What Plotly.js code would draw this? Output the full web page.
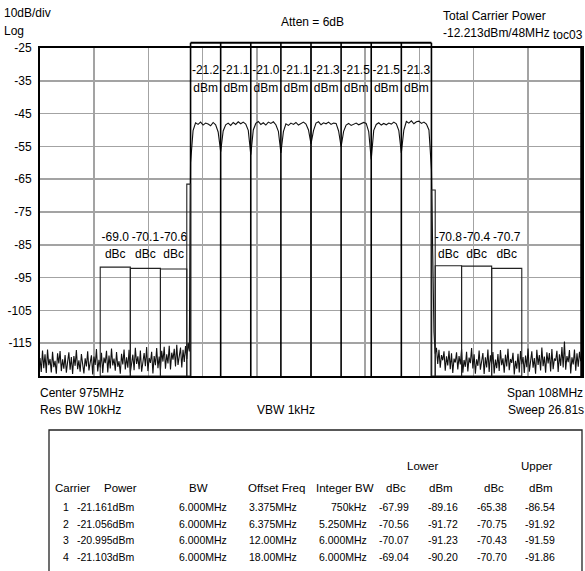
<!DOCTYPE html>
<html><head><meta charset="utf-8">
<script src="https://cdn.plot.ly/plotly-3.0.1.min.js"></script>
<style>html,body{margin:0;padding:0;background:#fff;}#chart{width:585px;height:571px;}</style>
</head><body><div id="chart"></div>
<script>
// ---------- data ----------
const centerMHz = 975;
const spanMHz = 108;
const yTicks = [-25, -35, -45, -55, -65, -75, -85, -95, -105, -115];
const carrierCenters = [954, 960, 966, 972, 978, 984, 990, 996];
const carrierBW = 6;
const carrierPowerLabels = [-21.2, -21.1, -21.0, -21.1, -21.3, -21.5, -21.5, -21.3];

const offsetFreqs = [3.375, 6.375, 12, 18];
const integBW = [0.75, 5.25, 6, 6];
const lowerDbc = [-67.99, -70.56, -70.07, -69.04];
const lowerDbm = [-89.16, -91.72, -91.23, -90.20];
const upperDbc = [-65.38, -70.75, -70.43, -70.70];
const upperDbm = [-86.54, -91.92, -91.59, -91.86];
const lowerBoxLevel = [-66.5, -92.4, -92.2, -91.8];
const upperBoxLevel = [-68.3, -91.4, -91.5, -92.2];

const tableCarrier = ['1', '2', '3', '4'];
const tablePower = ['-21.161dBm', '-21.056dBm', '-20.995dBm', '-21.103dBm'];
const tableBW = ['6.000MHz', '6.000MHz', '6.000MHz', '6.000MHz'];
const tableOffset = ['3.375MHz', '6.375MHz', '12.00MHz', '18.00MHz'];
const tableIntegBW = ['750kHz', '5.250MHz', '6.000MHz', '6.000MHz'];

// sweep trace (dBm)
const lowerNoiseStart = 921, lowerNoiseStep = 0.25;
const lowerNoise = [
-119.5,-123.8,-117.2,-122.6,-118.4,-124.1,-116.9,-121.7,-119.8,-123.9,
-117.6,-122.3,-120.4,-124.3,-118.1,-121.2,-117.4,-123.5,-119.9,-122.8,
-118.6,-124.0,-120.7,-117.8,-123.1,-119.2,-124.4,-118.9,-121.9,-117.1,
-122.9,-120.2,-123.7,-118.3,-121.4,-124.2,-119.6,-122.1,-117.5,-123.3,
-120.9,-118.7,-124.5,-119.1,-121.6,-116.8,-123.6,-120.1,-122.4,-117.9,
-124.1,-119.4,-121.1,-117.3,-123.9,-118.8,-122.7,-116.6,-121.8,-119.7,
-123.4,-117.7,-122.2,-120.5,-124.3,-118.2,-121.5,-116.9,-123.0,-119.3,
-122.5,-117.0,-124.0,-120.8,-118.5,-123.2,-116.4,-121.3,-119.0,-122.9,
-117.2,-123.7,-120.3,-118.0,-122.0,-116.2,-123.5,-119.5,-121.0,-117.6,
-124.2,-118.9,-121.7,-116.5,-122.6,-119.1,-123.3,-117.3,-120.6,-116.1,
-122.8,-118.4,-121.2,-115.8,-123.0,-117.9,-120.0,-116.7,-122.1,-115.5,
-121.6,-118.1,-116.3,-122.4,-117.0,-120.7,-115.9,-119.8,-114.9,-117.5
];
const channelStart = 951, channelStep = 0.5;
const channelLevel = [
-60.0,-50.2,-47.8,-48.3,-47.6,-48.5,-47.9,-48.2,-48.7,-47.7,-48.4,-50.6,
-56.6,-50.3,-48.4,-47.9,-48.6,-47.7,-48.3,-47.5,-48.1,-47.6,-48.2,-50.1,
-57.5,-50.0,-48.0,-47.4,-48.3,-47.8,-48.5,-47.6,-48.0,-47.5,-48.4,-50.4,
-57.0,-50.5,-48.1,-48.6,-47.9,-48.3,-47.7,-48.5,-48.0,-47.6,-48.2,-50.0,
-54.2,-50.2,-47.9,-47.5,-48.4,-47.8,-48.1,-47.6,-48.3,-47.9,-48.0,-50.3,
-55.1,-50.4,-48.5,-48.0,-48.6,-48.2,-47.9,-48.4,-48.1,-47.7,-48.0,-50.5,
-59.0,-50.1,-48.3,-47.8,-48.5,-48.0,-48.4,-47.9,-48.2,-47.6,-48.1,-50.2,
-57.0,-50.0,-47.4,-47.9,-47.2,-48.1,-47.5,-47.3,-48.0,-47.6,-48.2,-50.0,
-62.0
];
const upperNoiseStart = 999.25, upperNoiseStep = 0.25;
const upperNoise = [
-95.0,-111.5,-118.2,-116.4,-121.3,-117.0,-122.5,-118.6,-120.2,-117.5,
-123.4,-119.0,-121.8,-117.3,-122.9,-118.1,-124.1,-119.7,-120.9,-117.8,
-123.0,-118.9,-121.5,-116.8,-124.0,-120.1,-122.2,-117.6,-123.6,-119.4,
-121.1,-116.5,-122.7,-118.4,-124.3,-119.9,-121.9,-117.2,-123.1,-120.5,
-118.0,-124.4,-119.3,-122.4,-116.9,-123.8,-118.7,-121.3,-117.7,-124.2,
-120.0,-122.6,-118.3,-123.5,-117.1,-121.7,-119.6,-124.0,-118.5,-122.1,
-116.7,-123.2,-119.8,-121.0,-117.9,-124.5,-120.4,-122.8,-118.2,-123.9,
-117.4,-121.4,-119.2,-124.1,-118.8,-122.3,-116.6,-123.7,-120.6,-117.5,
-122.5,-119.5,-124.3,-117.0,-121.6,-118.6,-123.3,-116.3,-122.0,-119.1,
-124.0,-117.8,-121.2,-118.0,-123.6,-116.8,-122.9,-119.7,-120.3,-117.3,
-123.8,-118.4,-121.9,-116.2,-122.4,-114.5,-123.1,-118.9,-120.8,-117.1,
-124.2,-119.3,-121.5,-116.9,-123.4,-118.1,-122.2,-117.6,-120.5,-118.7
];

// ---------- build ----------
const FONT = 'Liberation Sans, Arial, sans-serif';
const xMin = centerMHz - spanMHz / 2, xMax = centerMHz + spanMHz / 2;
const xGrid = [];
for (let k = 1; k < 10; k++) xGrid.push(xMin + k * spanMHz / 10);

const traceX = [], traceY = [];
lowerNoise.forEach((v, i) => { traceX.push(lowerNoiseStart + i * lowerNoiseStep); traceY.push(v); });
channelLevel.forEach((v, i) => { traceX.push(channelStart + i * channelStep); traceY.push(v); });
upperNoise.forEach((v, i) => { traceX.push(upperNoiseStart + i * upperNoiseStep); traceY.push(v); });

const data = [];
data.push({x: traceX, y: traceY, type: 'scatter', mode: 'lines',
  line: {color: '#111', width: 1.1}, hoverinfo: 'skip'});

// carrier power labels
data.push({x: carrierCenters, y: carrierCenters.map(() => -32.0), mode: 'text', type: 'scatter',
  text: carrierPowerLabels.map(v => v.toFixed(1)), textfont: {family: FONT, size: 12, color: '#000'},
  cliponaxis: false, hoverinfo: 'skip'});
data.push({x: carrierCenters, y: carrierCenters.map(() => -37.4), mode: 'text', type: 'scatter',
  text: carrierCenters.map(() => 'dBm'), textfont: {family: FONT, size: 12, color: '#000'},
  cliponaxis: false, hoverinfo: 'skip'});

// adjacent channel labels (offsets 6.375, 12, 18)
const firstC = carrierCenters[0], lastC = carrierCenters[carrierCenters.length - 1];
const adjX = [], adjTxt = [];
for (let i = 1; i < offsetFreqs.length; i++) {
  adjX.push(firstC - offsetFreqs[i]); adjTxt.push(lowerDbc[i].toFixed(1));
  adjX.push(lastC + offsetFreqs[i]); adjTxt.push(upperDbc[i].toFixed(1));
}
data.push({x: adjX, y: adjX.map(() => -82.9), mode: 'text', type: 'scatter', text: adjTxt,
  textfont: {family: FONT, size: 12, color: '#000'}, hoverinfo: 'skip'});
data.push({x: adjX, y: adjX.map(() => -88.1), mode: 'text', type: 'scatter', text: adjX.map(() => 'dBc'),
  textfont: {family: FONT, size: 12, color: '#000'}, hoverinfo: 'skip'});

// ---------- shapes ----------
const shapes = [];
const bracketY = 1.016;
const edges = carrierCenters.map(c => c - carrierBW / 2).concat([lastC + carrierBW / 2]);
edges.forEach(e => shapes.push({type: 'line', xref: 'x', yref: 'paper', x0: e, x1: e, y0: 0, y1: bracketY,
  line: {color: '#000', width: 1.6}}));
shapes.push({type: 'line', xref: 'x', yref: 'paper', x0: edges[0], x1: edges[edges.length - 1],
  y0: bracketY, y1: bracketY, line: {color: '#000', width: 2}});
for (let i = 0; i < offsetFreqs.length; i++) {
  const lc = firstC - offsetFreqs[i], uc = lastC + offsetFreqs[i];
  shapes.push({type: 'rect', xref: 'x', yref: 'y', x0: lc - integBW[i] / 2, x1: lc + integBW[i] / 2,
    y0: -125, y1: lowerBoxLevel[i], line: {color: '#222', width: 1.1}});
  shapes.push({type: 'rect', xref: 'x', yref: 'y', x0: uc - integBW[i] / 2, x1: uc + integBW[i] / 2,
    y0: -125, y1: upperBoxLevel[i], line: {color: '#222', width: 1.1}});
}
shapes.push({type: 'line', xref: 'paper', yref: 'paper', x0: 1, x1: 1, y0: 0, y1: 1, line: {color: '#000', width: 3.5}});

// pixel helpers for page-level text (plot area: x 40..582, y 48..376)
const PL = 40, PW = 542, PT = 48, PH = 328;
const px = v => (v - PL) / PW;
const py = v => (PT + PH - v) / PH;

// table box
shapes.push({type: 'path', xref: 'paper', yref: 'paper',
  path: `M${px(49)},${py(575)} L${px(49)},${py(430)} L${px(582)},${py(430)} L${px(582)},${py(575)}`,
  line: {color: '#222', width: 1.3}});

const annotations = [];
function txt(t, x, y, anchor, size) {
  annotations.push({text: t, xref: 'paper', yref: 'paper', x: px(x), y: py(y), xanchor: anchor || 'left',
    yanchor: 'middle', showarrow: false, font: {family: FONT, size: size || 12, color: '#000'}, borderpad: 0});
}
txt('10dB/div', 3, 13);
txt('Log', 3, 31);
txt('Atten = 6dB', 312, 22, 'center');
txt('Total Carrier Power', 442, 16);
txt('-12.213dBm/48MHz', 442, 33);
txt('toc03', 584, 35, 'right');
txt('Center 975MHz', 39, 393);
txt('Res BW 10kHz', 39, 410);
txt('VBW 1kHz', 286, 410, 'center');
txt('Span 108MHz', 584, 393, 'right');
txt('Sweep 26.81s', 585, 410, 'right');

// table text
const HS = 11.5, VS = 10.5;
txt('Lower', 422, 466, 'center', HS);
txt('Upper', 536, 466, 'center', HS);
const headers = ['Carrier', 'Power', 'BW', 'Offset Freq', 'Integer BW', 'dBc', 'dBm', 'dBc', 'dBm'];
const headerX = [72, 120, 198, 276, 345, 396, 441, 494, 541];
headers.forEach((h, i) => txt(h, headerX[i], 488, 'center', HS));
const colRight = [70, 135, 228, 298, 368, 410, 459, 508, 556];
const rowY = [507, 523.5, 540, 556.5];
for (let r = 0; r < 4; r++) {
  const cells = [tableCarrier[r], tablePower[r], tableBW[r], tableOffset[r], tableIntegBW[r],
    lowerDbc[r].toFixed(2), lowerDbm[r].toFixed(2), upperDbc[r].toFixed(2), upperDbm[r].toFixed(2)];
  cells.forEach((c, i) => txt(c, colRight[i], rowY[r], 'right', VS));
}

const layout = {
  width: 585, height: 571,
  margin: {l: PL, r: 585 - PL - PW, t: PT, b: 571 - PT - PH, pad: 0},
  paper_bgcolor: '#fff', plot_bgcolor: '#fff',
  showlegend: false,
  font: {family: FONT, size: 12, color: '#000'},
  xaxis: {range: [xMin, xMax], tickvals: xGrid, showticklabels: false, ticks: '',
    showgrid: true, gridcolor: '#a3a3a3', gridwidth: 1.6, zeroline: false,
    showline: true, mirror: true, linecolor: '#000', linewidth: 2, fixedrange: true},
  yaxis: {range: [-125, -25], tickvals: yTicks, ticktext: yTicks.map(String), ticks: '',
    ticklabelstandoff: 4,
    tickfont: {family: FONT, size: 12, color: '#000'},
    showgrid: true, gridcolor: '#a3a3a3', gridwidth: 1.6, zeroline: false,
    showline: true, mirror: true, linecolor: '#000', linewidth: 2, fixedrange: true},
  shapes: shapes,
  annotations: annotations
};
Plotly.newPlot('chart', data, layout, {staticPlot: true, displayModeBar: false});
</script>
</body></html>
